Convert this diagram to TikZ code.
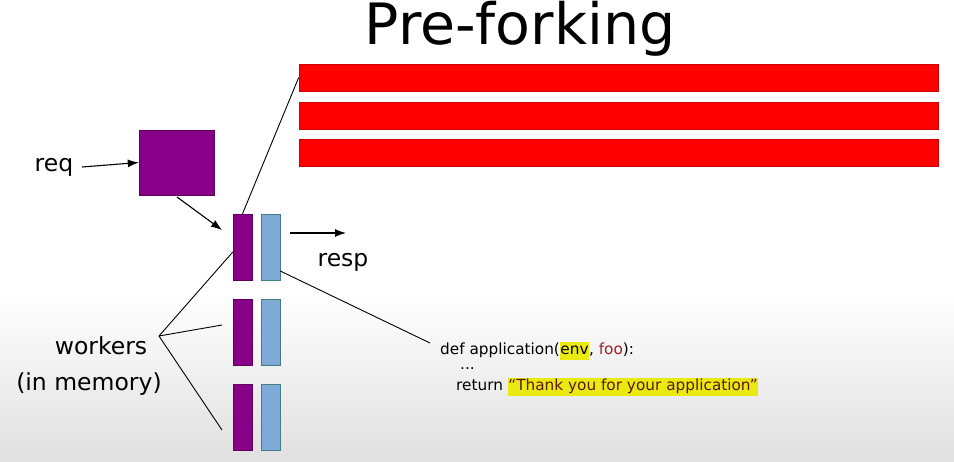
\documentclass[tikz,border=0pt]{standalone}
\usepackage{fontspec}
\setmainfont{DejaVu Sans}
\setlength{\fboxsep}{0.5pt}
\begin{document}
\begin{tikzpicture}[x=1pt,y=-1pt,
  redbar/.style={fill=red,draw=red!80!black,line width=0.6pt},
  conn/.style={line width=0.9pt},
  arr/.style={line width=1.1pt,-{Latex[length=11pt,width=8pt]}},
  lbl/.style={inner sep=0pt,font=\fontsize{23.5}{26}\selectfont}]
\usetikzlibrary{arrows.meta}
\definecolor{pur}{HTML}{880088}
\definecolor{pblue}{HTML}{7FAAD8}
\definecolor{hl}{HTML}{EAEA10}
\definecolor{dred}{HTML}{A02020}
\definecolor{dtxt}{HTML}{5A1A10}
\tikzset{proc/.style={fill=pur,draw=pur!70!black,line width=0.4pt},mem/.style={fill=pblue,draw=teal!50!gray,line width=0.5pt}}
\fill[white] (0,0) rectangle (954,290);
\shade[top color=white,bottom color=black!12] (0,290) rectangle (954,461);
\useasboundingbox (0,0) rectangle (954,461);
\node[inner sep=0pt,font=\fontsize{57}{60}\selectfont] (title) at (520,29) {Pre-forking};
\node[redbar,minimum width=639,minimum height=27,inner sep=0pt] (r1) at (618.5,77.5) {};
\node[redbar,minimum width=639,minimum height=27,inner sep=0pt] (r2) at (618.5,115.5) {};
\node[redbar,minimum width=639,minimum height=27,inner sep=0pt] (r3) at (618.5,152.5) {};
\node[lbl] (req) at (54,167) {req};
\node[proc,minimum width=75,minimum height=65,inner sep=0pt] (box) at (176.5,162.5) {};
\draw[arr] (82,167) -- (box.west);
\foreach \i/\y in {1/247,2/332,3/417}{
  \node[proc,minimum width=19,minimum height=66,inner sep=0pt] (p\i) at (242.5,\y) {};
  \node[mem,minimum width=19,minimum height=66,inner sep=0pt] (m\i) at (270.5,\y) {};
}
\coordinate (a1) at (177,197);
\coordinate (a2) at (222,230);
\draw[arr] (a1) -- (a2);
\draw[conn] (p1.north) -- (r1.west);
\coordinate (s1) at (290,233);
\coordinate (s2) at (346,233);
\draw[arr] (s1) -- (s2);
\node[lbl] (resp) at (343,262) {resp};
\node[lbl,anchor=center] (wk) at (101,346) {workers};
\node[lbl] (mem) at (89,384) {(in memory)};
\coordinate (hub) at (159,336);
\coordinate (w2) at (222,325);
\coordinate (w3) at (222,430);
\draw[conn] (hub) -- (p1.west |- 0,252) (hub) -- (w2) (hub) -- (w3);
\coordinate (c0) at (430,343);
\draw[conn] (m1.east |- 0,271) -- (c0);
\begin{scope}[font=\fontsize{15.3}{17}\selectfont]
\node[anchor=west,inner sep=0pt] (code1) at (440,351) {def application(\colorbox{hl}{\strut env}, \textcolor{dred}{foo}):};
\node[anchor=west,inner sep=0pt] (code2) at (460,369) {...};
\node[anchor=west,inner sep=0pt] (code3) at (456,387) {return \colorbox{hl}{\strut\textcolor{dtxt}{“Thank you for your application”}}};
\end{scope}
\end{tikzpicture}
\end{document}
